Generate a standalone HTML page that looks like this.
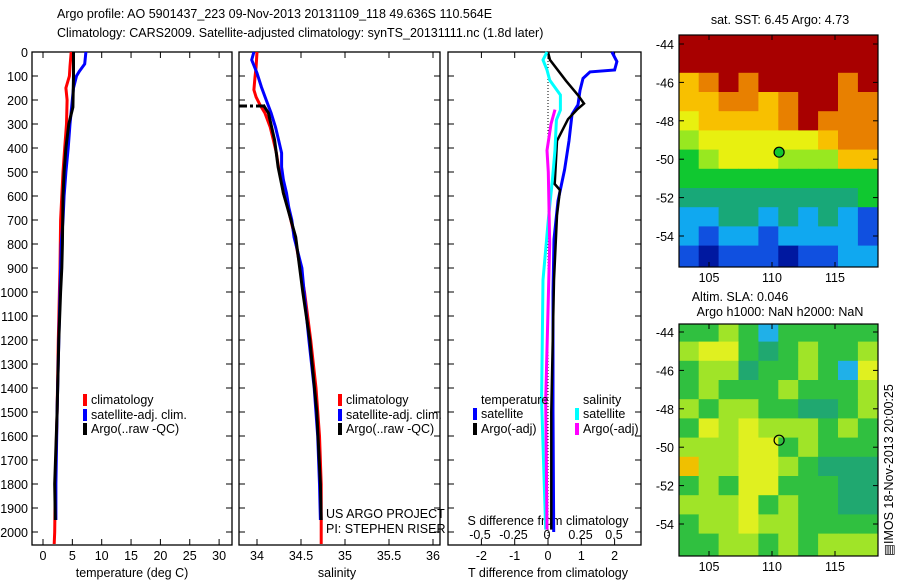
<!DOCTYPE html>
<html><head><meta charset="utf-8">
<style>
html,body{margin:0;padding:0;background:#fff;}
svg{display:block;font-family:"Liberation Sans",sans-serif;}
text{font-size:12.5px;fill:#000;}
</style></head>
<body>
<svg id="fig" width="900" height="580" viewBox="0 0 900 580">
<text x="57" y="18">Argo profile: AO 5901437_223 09-Nov-2013 20131109_118 49.636S 110.564E</text>
<text x="57" y="37">Climatology: CARS2009. Satellite-adjusted climatology: synTS_20131111.nc (1.8d later)</text>
<g id="g"></g>
</svg>
<script>
// ---------- data ----------
const depthTicks=[0,100,200,300,400,500,600,700,800,900,1000,1100,1200,1300,1400,1500,1600,1700,1800,1900,2000];
const tTicks=[0,5,10,15,20,25,30];
const sTicks=[34,34.5,35,35.5,36];
const dTTicks=[-2,-1,0,1,2];
const dSTicks=[-0.5,-0.25,0,0.25,0.5];
const dSTickLabels=["-0.5","-0.25","0","0.25","0.5"];

const tClimDepth=[0,60,100,150,200,300,400,500,700,900,1000,1200,1500,1800,2000,2050];
const tClim=[4.8,4.6,4.5,3.9,4.1,4.0,3.7,3.4,3.0,2.9,2.8,2.6,2.4,2.1,2.0,1.9];
const tSatDepth=[0,50,80,100,150,200,300,400,500,600,700,800,1000,1200,1500,1800,1950];
const tSat=[7.3,7.1,6.2,5.7,5.2,5.0,4.6,4.3,3.9,3.6,3.4,3.1,2.9,2.7,2.4,2.2,2.2];
const tArgoDepth=[0,100,230,300,400,500,600,800,900,1000,1200,1500,1800,1950];
const tArgo=[5.2,5.2,5.1,4.4,3.9,3.6,3.4,3.3,3.2,3.0,2.7,2.4,2.0,2.1];

const sClimDepth=[0,63,104,158,188,221,254,313,367,421,479,533,588,646,771,1000,1200,1400,1600,1800,2050];
const sClim=[34.0,33.99,33.977,33.965,33.99,34.035,34.09,34.15,34.186,34.22,34.244,34.28,34.30,34.35,34.43,34.54,34.61,34.67,34.71,34.73,34.73];
const sSatDepth=[0,33,88,146,200,254,313,367,421,479,533,588,646,700,771,900,1000,1200,1400,1600,1800,1950];
const sSat=[33.965,33.94,34.0,34.05,34.105,34.16,34.21,34.245,34.28,34.28,34.30,34.335,34.36,34.395,34.42,34.51,34.535,34.59,34.65,34.69,34.71,34.72];
const sArgoDepth=[220,254,367,479,588,771,1000,1200,1500,1800,1950];
const sArgo=[34.07,34.13,34.2,34.24,34.30,34.44,34.52,34.60,34.68,34.72,34.73];

const dTSatDepth=[0,40,75,83,110,160,220,260,370,490,620,780,1000,1500,2000];
const dTSat=[1.92,2.07,2.0,1.26,1.05,0.96,0.9,0.72,0.63,0.5,0.3,0.18,0.15,0.15,0.17];
const dTArgoDepth=[0,33,120,180,215,240,280,370,450,550,575,680,950,1500,1990];
const dTArgo=[0,0.06,0.54,0.9,1.08,0.87,0.6,0.27,0.24,0.2,0.36,0.27,0.18,0.1,0.1];
const dSSatDepth=[0,33,75,117,179,242,283,408,533,700,950,1450,1990];
const dSSat=[0,-0.03,0,0.02,0.1,0.1,0.07,0.06,0.04,0.01,-0.03,-0.04,-0.01];
const dSArgoDepth=[240,300,410,500,800,1450,1990];
const dSArgo=[0.06,0.03,0,0.01,0.02,-0.01,0.0];

const lonTicks=[105,110,115];
const latTicks=[-44,-46,-48,-50,-52,-54];
const gridLon=[102.6,104.18,105.76,107.34,108.92,110.5,112.08,113.66,115.24,116.82,118.4];
const gridLat=[-43.5,-44.5,-45.5,-46.5,-47.5,-48.5,-49.5,-50.5,-51.5,-52.5,-53.5,-54.5,-55.7];
const sstCells=[
[9,9,9,9,9,9,9,9,9,9],
[9,9,9,9,9,9,9,9,9,9],
[7,8,9,8,9,9,9,9,8,9],
[7,7,8,8,7,8,9,9,8,8],
[6,7,7,7,7,8,9,8,8,8],
[5,6,6,6,6,6,6,7,8,8],
[4,5,6,6,6,5,5,5,7,7],
[4,4,4,4,4,4,4,4,4,4],
[3,3,3,3,3,3,3,3,3,4],
[2,2,3,3,2,3,2,3,2,1],
[2,1,2,2,1,2,2,2,2,1],
[1,0,1,1,1,0,1,1,2,2]];
const slaCells=[
[4,4,5,4,2,4,4,4,4,4],
[5,6,6,4,3,4,5,4,4,5],
[4,5,5,3,4,4,5,4,2,6],
[4,5,4,4,4,5,4,4,4,5],
[5,4,5,5,4,4,3,3,4,5],
[4,6,5,6,5,5,5,4,5,4],
[5,5,5,6,6,4,5,4,4,4],
[7,5,5,6,6,5,4,3,3,3],
[4,5,4,6,6,4,4,4,3,3],
[5,5,5,6,4,5,4,4,3,3],
[4,5,5,6,5,5,4,4,4,4],
[4,4,5,5,4,5,4,5,5,5]];
const argoLon=110.564, argoLat=-49.636;

// ---------- helpers ----------
const NS="http://www.w3.org/2000/svg";
const G=document.getElementById('g');
function el(tag,attrs,parent){const e=document.createElementNS(NS,tag);for(const k in attrs)e.setAttribute(k,attrs[k]);(parent||G).appendChild(e);return e;}
function txt(x,y,s,anchor,parent){const t=el('text',{x:x,y:y,'text-anchor':anchor||'start'},parent);t.textContent=s;return t;}
const pal=['#0018a0','#1050e0','#10a8f0','#18a878','#10c830','#98e820','#e8f010','#f8c000','#e88000','#a80000'];
const slaPal=['#0018a0','#1050e0','#20b0e8','#20a870','#30c040','#a0e428','#e0f020','#f0c000','#e08000','#a80000'];

const TOP=52, PX_PER_M=0.24, BOT=545;
const yD=d=>TOP+d*PX_PER_M;
const xT=v=>43+v*5.87;
const xS=v=>257+(v-34)*88;
const xDT=v=>548+v*33.3;
const xDS=v=>547+v*134;

function frame(x0,x1,name){
  const r=el('rect',{x:x0,y:TOP,width:x1-x0,height:BOT-TOP,fill:'none',stroke:'#000','stroke-width':1.3});
  
  
  depthTicks.forEach(d=>{el('line',{x1:x0,x2:x0+6,y1:yD(d),y2:yD(d),stroke:'#000'});el('line',{x1:x1,x2:x1-6,y1:yD(d),y2:yD(d),stroke:'#000'});});
}
function line(xs,ds,fx,color,w,name){
  const pts=xs.map((v,i)=>fx(v).toFixed(1)+','+yD(ds[i]).toFixed(1)).join(' ');
  const p=el('polyline',{points:pts,fill:'none',stroke:color,'stroke-width':w,'stroke-linejoin':'miter'});
  
  
}
function legend(x,y,color,label,name){
  const g=el('g',{});
  
  
  el('rect',{x:x,y:y-10,width:4,height:12,fill:color},g);
  txt(x+8,y,label,'start',g);
}

// ---------- panel 1: temperature ----------
frame(32,232,'temperature-panel');
depthTicks.forEach(d=>{const t=txt(28,yD(d)+5,String(d),'end');});
tTicks.forEach(v=>{el('line',{x1:xT(v),x2:xT(v),y1:BOT,y2:BOT-6,stroke:'#000'});el('line',{x1:xT(v),x2:xT(v),y1:TOP,y2:TOP+6,stroke:'#000'});const t=txt(xT(v),560,String(v),'middle');});
txt(132,577,'temperature (deg C)','middle');
line(tClim,tClimDepth,xT,'#f00',3,'temperature-climatology-line');
line(tSat,tSatDepth,xT,'#00f',3,'temperature-satellite-line');
line(tArgo,tArgoDepth,xT,'#000',3,'temperature-argo-line');
legend(83,404,'#f00','climatology','legend-climatology');
legend(83,419,'#00f','satellite-adj. clim.','legend-satellite-adj');
legend(83,433,'#000','Argo(..raw -QC)','legend-argo');

// ---------- panel 2: salinity ----------
frame(239,440,'salinity-panel');
sTicks.forEach(v=>{el('line',{x1:xS(v),x2:xS(v),y1:BOT,y2:BOT-6,stroke:'#000'});el('line',{x1:xS(v),x2:xS(v),y1:TOP,y2:TOP+6,stroke:'#000'});const t=txt(xS(v),560,String(v),'middle');});
txt(337,577,'salinity','middle');
line(sClim,sClimDepth,xS,'#f00',3,'salinity-climatology-line');
line(sSat,sSatDepth,xS,'#00f',3,'salinity-satellite-line');
line(sArgo,sArgoDepth,xS,'#000',3,'salinity-argo-line');
const mld=el('line',{x1:239,x2:266,y1:106,y2:106,stroke:'#000','stroke-width':3,'stroke-dasharray':'8,3,3,3'});


legend(338,404,'#f00','climatology','legend-climatology-2');
legend(338,419,'#00f','satellite-adj. clim.','legend-satellite-adj-2');
legend(338,433,'#000','Argo(..raw -QC)','legend-argo-2');
txt(326,518,'US ARGO PROJECT');
txt(326,533,'PI: STEPHEN RISER');

// ---------- panel 3: differences ----------
frame(448,641,'difference-panel');
el('line',{x1:xDT(0),x2:xDT(0),y1:TOP,y2:BOT,stroke:'#000','stroke-dasharray':'1,2','stroke-width':1});
dTTicks.forEach(v=>{el('line',{x1:xDT(v),x2:xDT(v),y1:BOT,y2:BOT-6,stroke:'#000'});el('line',{x1:xDT(v),x2:xDT(v),y1:TOP,y2:TOP+6,stroke:'#000'});const t=txt(xDT(v),560,String(v),'middle');});
dSTicks.forEach((v,i)=>{const t=txt(xDS(v),539,dSTickLabels[i],'middle');});
txt(548,525,'S difference from climatology','middle');
txt(548,577,'T difference from climatology','middle');
line(dTSat,dTSatDepth,xDT,'#00f',3,'t-diff-satellite-line');
line(dTArgo,dTArgoDepth,xDT,'#000',2.5,'t-diff-argo-line');
line(dSSat,dSSatDepth,xDS,'#0ff',3,'s-diff-satellite-line');
line(dSArgo,dSArgoDepth,xDS,'#f0f',3,'s-diff-argo-line');
txt(481,404,'temperature');
txt(583,404,'salinity');
legend(473,418,'#00f','satellite','legend-t-satellite');
legend(473,433,'#000','Argo(-adj)','legend-t-argo');
legend(575,418,'#0ff','satellite','legend-s-satellite');
legend(575,433,'#f0f','Argo(-adj)','legend-s-argo');

// ---------- maps ----------
const mX0=679,mX1=878;
const xLon=l=>709+(l-105)*12.6;
function map(top,bottom,y44,cells,palette,name,filled){
  const yLat=la=>y44+(-44-la)*19.2;
  const cg=el('g',{});
  
  
  cells.forEach((row,r)=>row.forEach((c,k)=>{
    const x0=xLon(gridLon[k]),x1=xLon(gridLon[k+1]);
    const y0=Math.max(top,yLat(gridLat[r])),y1=Math.min(bottom,yLat(gridLat[r+1]));
    const cell=el('rect',{x:x0.toFixed(1),y:y0.toFixed(1),width:(x1-x0+0.5).toFixed(1),height:(y1-y0+0.5).toFixed(1),fill:palette[c]},cg);
    
    
  }));
  el('rect',{x:mX0,y:top,width:mX1-mX0,height:bottom-top,fill:'none',stroke:'#000','stroke-width':1.2});
  latTicks.forEach(la=>{const y=yLat(la);el('line',{x1:mX0,x2:mX0+5,y1:y,y2:y,stroke:'#000'});el('line',{x1:mX1,x2:mX1-5,y1:y,y2:y,stroke:'#000'});const t=txt(674,y+5,String(la),'end');});
  lonTicks.forEach(lo=>{const x=xLon(lo);el('line',{x1:x,x2:x,y1:top,y2:top+5,stroke:'#000'});el('line',{x1:x,x2:x,y1:bottom,y2:bottom-5,stroke:'#000'});const t=txt(x,bottom+15,String(lo),'middle');});
  const c=el('circle',{cx:xLon(argoLon),cy:yLat(argoLat),r:5,fill:filled?'#10c830':'none',stroke:'#000','stroke-width':1.2});
  
  
}
map(35,267,44,sstCells,pal,'sst-map',true);
map(324,556,332,slaCells,slaPal,'sla-map',false);
txt(780,24,'sat. SST: 6.45 Argo: 4.73','middle');
txt(740,301,'Altim. SLA: 0.046','middle');
txt(780,316,'Argo h1000: NaN h2000: NaN','middle');
const ts=txt(0,0,'\u25A4IMOS 18-Nov-2013 20:00:25','middle');
ts.setAttribute('transform','translate(893,470) rotate(-90)');


</script>
</body></html>
